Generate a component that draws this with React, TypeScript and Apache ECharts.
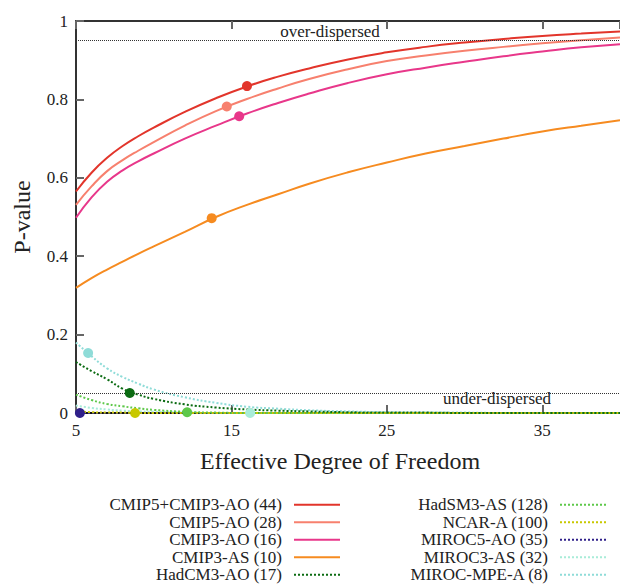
import React, { useEffect, useRef } from "react";
import * as echarts from "echarts";

const FONT = "Liberation Serif";

// Effective degree of freedom sample points
const xs = [5, 6, 7, 8, 9, 10, 12, 14, 16, 18, 20, 22.5, 25, 27.5, 30, 32.5, 35, 37.5, 40];

const cmip5cmip3AO = [0.565, 0.613, 0.651, 0.681, 0.706, 0.728, 0.768, 0.803, 0.833, 0.858, 0.879, 0.902, 0.92, 0.934, 0.945, 0.954, 0.962, 0.968, 0.973];
const cmip5AO = [0.531, 0.578, 0.617, 0.645, 0.669, 0.691, 0.733, 0.77, 0.801, 0.828, 0.852, 0.877, 0.898, 0.912, 0.924, 0.934, 0.943, 0.951, 0.958];
const cmip3AO = [0.498, 0.55, 0.59, 0.619, 0.642, 0.662, 0.7, 0.733, 0.764, 0.791, 0.815, 0.842, 0.864, 0.881, 0.896, 0.91, 0.922, 0.933, 0.941];
const cmip3AS = [0.319, 0.344, 0.366, 0.386, 0.406, 0.425, 0.462, 0.5, 0.531, 0.558, 0.585, 0.614, 0.639, 0.662, 0.681, 0.7, 0.718, 0.733, 0.747];
const hadCM3AO = [0.13, 0.107, 0.086, 0.062, 0.047, 0.036, 0.022, 0.014, 0.009, 0.006, 0.004, 0.002, 0.001, 0.001, 0, 0, 0, 0, 0];
const hadSM3AS = [0.047, 0.033, 0.023, 0.017, 0.012, 0.008, 0.003, 0.001, 0, 0, 0, 0, 0, 0, 0, 0, 0, 0, 0];
const ncarA = [0.004, 0.002, 0.001, 0.001, 0, 0, 0, 0, 0, 0, 0, 0, 0, 0, 0, 0, 0, 0, 0];
const miroc5AO = [0.001, 0, 0, 0, 0, 0, 0, 0, 0, 0, 0, 0, 0, 0, 0, 0, 0, 0, 0];
const miroc3AS = [0.019, 0.013, 0.009, 0.006, 0.004, 0.003, 0.001, 0, 0, 0, 0, 0, 0, 0, 0, 0, 0, 0, 0];
const mirocMPEA = [0.18, 0.145, 0.114, 0.092, 0.075, 0.06, 0.04, 0.026, 0.016, 0.011, 0.007, 0.004, 0.002, 0.001, 0.001, 0, 0, 0, 0];

const seriesNames = [
  "CMIP5+CMIP3-AO (44)",
  "CMIP5-AO (28)",
  "CMIP3-AO (16)",
  "CMIP3-AS (10)",
  "HadCM3-AO (17)",
  "HadSM3-AS (128)",
  "NCAR-A (100)",
  "MIROC5-AO (35)",
  "MIROC3-AS (32)",
  "MIROC-MPE-A (8)",
];
const seriesData = [cmip5cmip3AO, cmip5AO, cmip3AO, cmip3AS, hadCM3AO, hadSM3AS, ncarA, miroc5AO, miroc3AS, mirocMPEA];

// Actual effective degree of freedom of each ensemble (marker points)
const markerX = [16.0, 14.7, 15.5, 13.73, 8.46, 12.15, 8.8, 5.25, 16.2, 5.78];
const markerY = [0.834, 0.782, 0.757, 0.497, 0.051, 0.002, 0, 0, 0, 0.153];

const seriesColors = ["#e2352b", "#f7806e", "#e8378a", "#f68b20", "#0b6b12", "#5ec84a", "#c8c800", "#30208a", "#a8ecd8", "#8fdcd8"];
const seriesDotted = [false, false, false, false, true, true, true, true, true, true];

const thresholds = [0.95, 0.05];

export default function App() {
  const ref = useRef<HTMLDivElement>(null);
  useEffect(() => {
    if (!ref.current) return;
    const chart = echarts.init(ref.current, undefined, { renderer: "svg" });
    const lineSeries = seriesNames.map((name, i) => ({
      name,
      type: "line",
      data: xs.map((x, k) => [x, seriesData[i][k]]),
      smooth: 0.5,
      symbol: "none",
      lineStyle: { color: seriesColors[i], width: 2, type: seriesDotted[i] ? "dotted" : "solid" },
      itemStyle: { color: seriesColors[i] },
      z: 3 + (9 - i) * 0.01,
      markLine:
        i === 0
          ? {
              silent: true,
              symbol: ["none", "none"],
              label: { show: false },
              lineStyle: { type: "dotted", color: "#333", width: 1 },
              data: thresholds.map((t) => ({ yAxis: t })),
            }
          : undefined,
    }));
    const markerSeries = seriesNames.map((name, i) => ({
      name: "marker-" + i,
      type: "scatter",
      data: [[markerX[i], markerY[i]]],
      symbol: "circle",
      symbolSize: 10,
      itemStyle: { color: seriesColors[i], opacity: 1 },
      z: 5,
      clip: false,
    }));
    const legendCommon = {
      orient: "vertical",
      align: "right",
      itemWidth: 46,
      itemHeight: 10,
      itemGap: 0,
      padding: 0,
      selectedMode: false,
      itemStyle: { opacity: 0 },
      textStyle: { fontFamily: FONT, fontSize: 17, color: "#222", lineHeight: 17.5, padding: [0, 7, 0, 0] },
    };
    chart.setOption({
      animation: false,
      backgroundColor: "#ffffff",
      textStyle: { fontFamily: FONT },
      grid: { left: 76, top: 21, width: 553, height: 392 },
      legend: [
        { ...legendCommon, right: 279, top: 496, height: 100, data: seriesNames.slice(0, 5) },
        { ...legendCommon, right: 13, top: 496, height: 100, data: seriesNames.slice(5) },
      ],
      xAxis: [
        {
          type: "value",
          min: 5,
          max: 40,
          interval: 10,
          axisLine: { show: true, onZero: false, lineStyle: { color: "#111", width: 2 } },
          axisTick: { show: true, inside: true, length: 8, lineStyle: { color: "#666", width: 2 } },
          axisLabel: { margin: 9, fontSize: 17, fontFamily: FONT, color: "#222", showMaxLabel: false },
          splitLine: { show: false },
        },
        {
          type: "value",
          position: "top",
          min: 5,
          max: 40,
          interval: 10,
          axisLine: { show: true, onZero: false, lineStyle: { color: "#333", width: 2 } },
          axisTick: { show: true, inside: true, length: 8, lineStyle: { color: "#666", width: 2 } },
          axisLabel: { show: false },
          splitLine: { show: false },
        },
      ],
      yAxis: {
        type: "value",
        min: 0,
        max: 1,
        interval: 0.2,
        name: "P-value",
        nameLocation: "middle",
        nameGap: 42,
        nameTextStyle: { fontSize: 24, fontFamily: FONT, color: "#222" },
        axisLine: { show: true, lineStyle: { color: "#333", width: 2 } },
        axisTick: { show: true, inside: true, length: 8, lineStyle: { color: "#666", width: 2 } },
        axisLabel: { margin: 8, fontSize: 17, fontFamily: FONT, color: "#222" },
        splitLine: { show: false },
      },
      graphic: [
        {
          type: "text",
          x: 340,
          y: 461,
          style: { text: "Effective Degree of Freedom", font: `24px "${FONT}"`, fill: "#222", align: "center", verticalAlign: "middle" },
        },
        {
          type: "text",
          x: 330,
          y: 31,
          z: 10,
          style: { text: "over-dispersed", font: `17px "${FONT}"`, fill: "#222", align: "center", verticalAlign: "middle" },
        },
        {
          type: "text",
          x: 497,
          y: 398,
          z: 10,
          style: { text: "under-dispersed", font: `17px "${FONT}"`, fill: "#222", align: "center", verticalAlign: "middle" },
        },
      ],
      series: [...lineSeries, ...markerSeries],
    });
    return () => chart.dispose();
  }, []);
  return <div ref={ref} style={{ position: "fixed", left: 0, top: 0, width: 620, height: 584 }} />;
}
